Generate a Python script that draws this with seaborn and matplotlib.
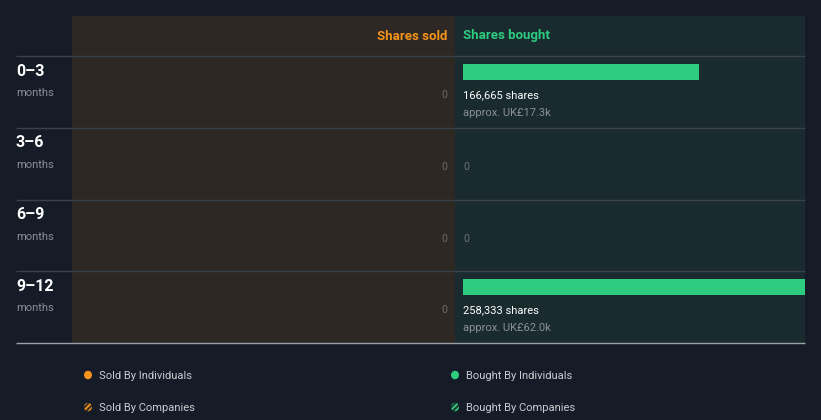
import matplotlib
matplotlib.use("Agg")
import matplotlib.pyplot as plt
from matplotlib.patches import Rectangle, Ellipse
import seaborn as sns
import pandas as pd

# ---- data ----
periods = ["0–3", "3–6", "6–9", "9–12"]
period_unit = ["months", "months", "months", "months"]
sold_shares = [0, 0, 0, 0]
bought_shares = [166665, 0, 0, 258333]
bought_value = ["UK£17.3k", None, None, "UK£62.0k"]
legend_labels = ["Sold By Individuals", "Sold By Companies",
                 "Bought By Individuals", "Bought By Companies"]

# ---- style ----
BG = "#151c27"
SOLD_BG = "#2d2823"
BOUGHT_BG = "#192b2f"
GREEN = "#2ecc80"
ORANGE = "#f5931d"
GRID = "#3b4149"
FONT = ["Roboto", "DejaVu Sans"]

sns.set_theme(style="white")
plt.rcParams["font.family"] = FONT
plt.rcParams["hatch.linewidth"] = 1.3

W, H = 821, 420
fig = plt.figure(figsize=(W / 100, H / 100), dpi=100, facecolor=BG)

# background axes in pixel coordinates
bg = fig.add_axes([0, 0, 1, 1], zorder=0)
bg.set_xlim(0, W)
bg.set_ylim(H, 0)
bg.axis("off")
bg.set_facecolor(BG)

top, head_bot, bottom = 16, 56, 343
x_left, x_mid, x_right = 72, 455, 805
bg.add_patch(Rectangle((x_left, top), x_mid - x_left, bottom - top, color=SOLD_BG, lw=0))
bg.add_patch(Rectangle((x_mid, top), x_right - x_mid, bottom - top, color=BOUGHT_BG, lw=0))

row_h = (bottom - head_bot) / len(periods)
for i in range(len(periods)):
    y = head_bot + i * row_h
    bg.plot([16, x_right], [y, y], color=GRID, lw=1, solid_capstyle="butt")
bg.plot([16, x_right], [bottom, bottom], color="#9aa0a6", lw=1, solid_capstyle="butt")

bg.text(447, 36, "Shares sold", color=ORANGE, fontsize=9.5, fontweight="bold",
        ha="right", va="center")
bg.text(463, 36, "Shares bought", color=GREEN, fontsize=9.5, fontweight="bold",
        ha="left", va="center")

for i, (p, u) in enumerate(zip(periods, period_unit)):
    y = head_bot + i * row_h
    bg.text(16, y + 15, p, color="white", fontsize=11.5, fontweight="bold",
            ha="left", va="center")
    bg.text(16, y + 37, u, color="#8b9097", fontsize=8, ha="left", va="center")
    # sold value label
    bg.text(447, y + 39, f"{sold_shares[i]:,}", color="#6e6d6a", fontsize=7.5,
            ha="right", va="center")

# ---- bought axes (bars drawn through seaborn) ----
a = 16 / row_h
ax_w = (x_right - x_mid) / W
ax_h = (bottom - head_bot) / H
ax = fig.add_axes([x_mid / W, (H - bottom) / H, ax_w, ax_h], zorder=1)
ax.patch.set_alpha(0)
df = pd.DataFrame({"period": periods, "shares": bought_shares})
sns.barplot(data=df, x="shares", y="period", orient="h", color=GREEN,
            saturation=1, width=16 / row_h, linewidth=0, edgecolor="none", ax=ax)
k = 166665 / 236.0
ax.set_xlim(-8 * k, (x_right - x_mid - 8) * k)
ax.set_ylim(len(periods) - a, -a)
ax.axis("off")
for i, v in enumerate(bought_shares):
    if v > 0:
        ax.text(0, i + 23 / row_h, f"{v:,} shares", color="white", fontsize=8,
                ha="left", va="center")
        ax.text(0, i + 41 / row_h, f"approx. {bought_value[i]}", color="#8b9097",
                fontsize=8, ha="left", va="center")
    else:
        ax.text(0, i + 23 / row_h, f"{v:,}", color="#6a7676", fontsize=7.5,
                ha="left", va="center")

# ---- sold axes (zero bars through seaborn) ----
ax2 = fig.add_axes([x_left / W, (H - bottom) / H, (x_mid - x_left) / W, ax_h], zorder=1)
ax2.patch.set_alpha(0)
df2 = pd.DataFrame({"period": periods, "shares": sold_shares})
sns.barplot(data=df2, x="shares", y="period", orient="h", color=ORANGE,
            saturation=1, width=16 / row_h, linewidth=0, edgecolor="none", ax=ax2)
ax2.set_xlim(1, 0)
ax2.set_ylim(len(periods) - a, -a)
ax2.axis("off")

# ---- legend ----
leg_pos = [(88, 375), (88, 407), (455, 375), (455, 407)]
leg_col = [ORANGE, ORANGE, GREEN, GREEN]
for (x, y), lab, c, hatched in zip(leg_pos, legend_labels, leg_col, [False, True, False, True]):
    if hatched:
        bg.add_patch(Ellipse((x, y), 8, 8.5, facecolor="#3a3026" if c == ORANGE else "#1d3a30",
                             edgecolor=c, hatch="//////", lw=0))
    else:
        bg.add_patch(Ellipse((x, y), 8, 8.5, facecolor=c, lw=0))
    bg.text(x + 11, y + 1, lab, color="#c9ccd0", fontsize=8, ha="left", va="center")

fig.savefig("out.png", dpi=100, facecolor=BG)
